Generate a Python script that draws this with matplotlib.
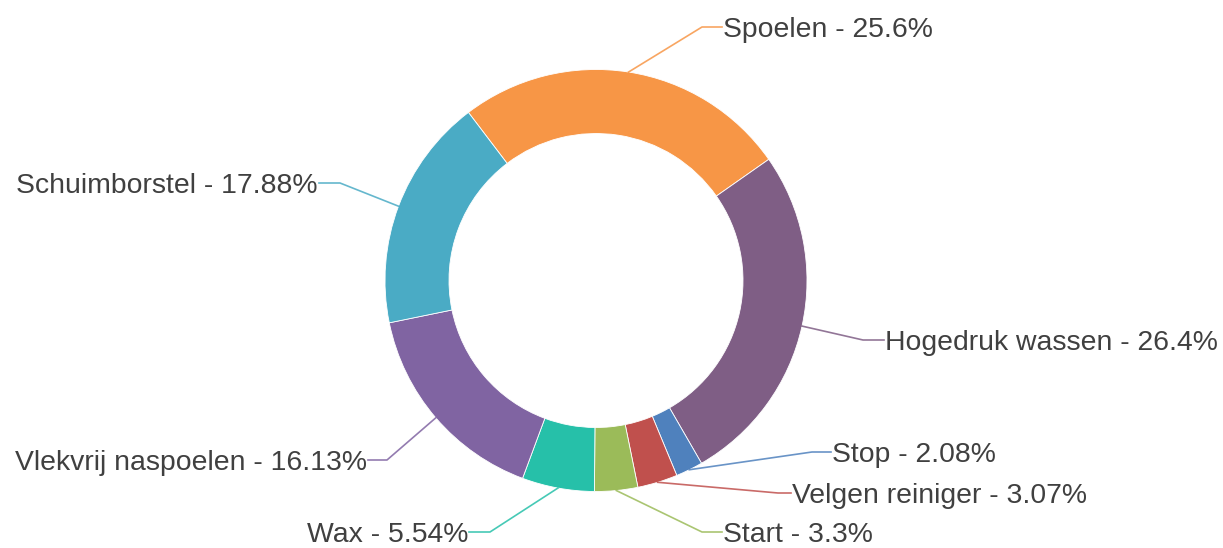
import numpy as np
import matplotlib
matplotlib.use("Agg")
import matplotlib.pyplot as plt

# ---- data ----
categories = ["Spoelen", "Hogedruk wassen", "Stop", "Velgen reiniger",
              "Start", "Wax", "Vlekvrij naspoelen", "Schuimborstel"]
percentages = [25.6, 26.4, 2.08, 3.07, 3.3, 5.54, 16.13, 17.88]
pct_labels = ["25.6%", "26.4%", "2.08%", "3.07%", "3.3%", "5.54%", "16.13%", "17.88%"]
colors = ["#f79646", "#7f5e85", "#4f81bd", "#c0504d",
          "#9bbb59", "#26c0a9", "#8064a2", "#4aabc5"]

# ---- layout (pixel coordinates, y from top) ----
W, H = 1223, 548
center_px = (596, 280.5)
r_out = 211
ring_w = 64
# label anchor: (text x, text y, side)
label_layout = [
    (723, 27, "right"),
    (885, 340, "right"),
    (832, 452, "right"),
    (792, 493, "right"),
    (723, 532, "right"),
    (468, 532, "left"),
    (367, 460, "left"),
    (318, 183, "left"),
]
elbow_len = [21, 22, 20, 14, 21, 22, 20, 22]

fig = plt.figure(figsize=(W / 100, H / 100), dpi=100)
ax = fig.add_axes([0, 0, 1, 1])

def Y(y):
    return H - y

wedges, _ = ax.pie(percentages, colors=colors, startangle=127.2, counterclock=False,
                   radius=r_out, center=(center_px[0], Y(center_px[1])),
                   wedgeprops=dict(width=ring_w, edgecolor="white", linewidth=0.6))

ax.set_xlim(0, W)
ax.set_ylim(0, H)
ax.set_aspect("equal")
ax.axis("off")

for w, name, pl, (tx, ty, side), el, c in zip(wedges, categories, pct_labels,
                                              label_layout, elbow_len, colors):
    mid = np.deg2rad((w.theta1 + w.theta2) / 2)
    sx = center_px[0] + r_out * np.cos(mid)
    sy = Y(center_px[1]) + r_out * np.sin(mid)
    if side == "right":
        ex = tx - el
        lx = tx - 1
        ha = "left"
    else:
        ex = tx + el
        lx = tx + 1
        ha = "right"
    ax.plot([sx, ex, lx], [sy, Y(ty), Y(ty)], color=c, lw=1.2, alpha=0.85,
            solid_joinstyle="round")
    ax.text(tx, Y(ty), f"{name} - {pl}", ha=ha, va="center_baseline",
            fontsize=20.4, family="Liberation Sans", color="#404040")

fig.savefig("out.png", dpi=100)
